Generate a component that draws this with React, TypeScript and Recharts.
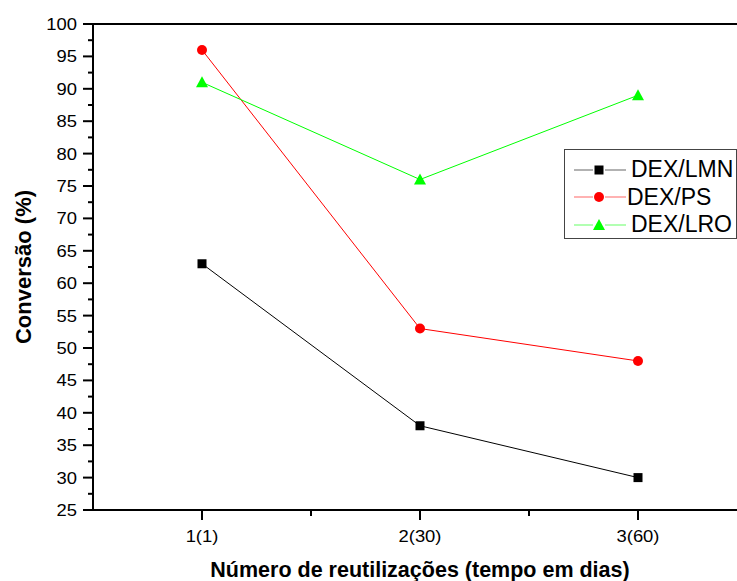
import { LineChart, Line, XAxis, YAxis, ReferenceLine } from "recharts";

const categories = ["1(1)", "2(30)", "3(60)"];
const xPositions = [1, 2, 3];
const lmn = [63, 38, 30];
const ps = [96, 53, 48];
const lro = [91, 76, 89];
const yTicks = [25, 27.5, 30, 32.5, 35, 37.5, 40, 42.5, 45, 47.5, 50, 52.5, 55, 57.5, 60, 62.5, 65, 67.5, 70, 72.5, 75, 77.5, 80, 82.5, 85, 87.5, 90, 92.5, 95, 97.5, 100];
const xTicks = [1, 1.5, 2, 2.5, 3];

const data = xPositions.map((x, i) => ({ x, lmn: lmn[i], ps: ps[i], lro: lro[i] }));

const FONT = "Liberation Sans, Arial, sans-serif";

const SERIES = [
  { key: "lmn", name: "DEX/LMN", color: "#000000", shape: "square" },
  { key: "ps", name: "DEX/PS", color: "#ff0000", shape: "circle" },
  { key: "lro", name: "DEX/LRO", color: "#00ff00", shape: "triangle" },
];

function Marker({ cx, cy, shape, color }: { cx: number; cy: number; shape: string; color: string }) {
  if (cx == null || cy == null) return null;
  if (shape === "square") return <rect x={cx - 4.5} y={cy - 4.5} width={9} height={9} fill={color} />;
  if (shape === "circle") return <circle cx={cx} cy={cy} r={5} fill={color} />;
  return <polygon points={`${cx},${cy - 6} ${cx - 6},${cy + 5} ${cx + 6},${cy + 5}`} fill={color} />;
}

// tick labels in the original look horizontally stretched
function YTick(props: any) {
  const { x, y, payload } = props;
  const major = payload.value % 5 === 0;
  return (
    <g>
      <line x1={x - (major ? 10 : 5)} x2={x} y1={y} y2={y} stroke="#000" strokeWidth={2} />
      {major && (
        <text
          transform={`translate(${x - 16},${y + 6}) scale(1.15,1)`}
          textAnchor="end"
          fontSize={16}
          fontFamily={FONT}
          fill="#000"
        >
          {payload.value}
        </text>
      )}
    </g>
  );
}

function XTick(props: any) {
  const { x, y, payload } = props;
  const major = Number.isInteger(payload.value);
  return (
    <g>
      <line x1={x} x2={x} y1={y} y2={y + (major ? 10 : 6)} stroke="#000" strokeWidth={2} />
      {major && (
        <text
          transform={`translate(${x},${y + 32}) scale(1.15,1)`}
          textAnchor="middle"
          fontSize={16}
          fontFamily={FONT}
          fill="#000"
        >
          {categories[payload.value - 1]}
        </text>
      )}
    </g>
  );
}

function LegendBox() {
  return (
    <div
      style={{
        position: "absolute",
        left: 564,
        top: 149,
        border: "1px solid #444",
        width: 173,
        height: 90,
        background: "#fff",
        boxSizing: "border-box",
        paddingTop: 6,
      }}
    >
      {SERIES.map((s) => (
        <div key={s.key} style={{ display: "flex", alignItems: "center", height: 27.5 }}>
          <svg width={60} height={20} style={{ marginLeft: 6, flex: "none" }}>
            <line x1={3} x2={55} y1={10} y2={10} stroke={s.color} strokeWidth={1} opacity={0.6} />
            <rect x={22} y={2} width={12} height={16} fill="#fff" />
            <Marker cx={28} cy={10} shape={s.shape} color={s.color} />
          </svg>
          <span
            style={{
              fontFamily: FONT,
              fontSize: 23,
              marginLeft: s.key === "ps" ? -4 : 0,
              color: "#000",
              lineHeight: 1,
              whiteSpace: "nowrap",
            }}
          >
            {s.name}
          </span>
        </div>
      ))}
    </div>
  );
}

export default function App() {
  return (
    <div style={{ position: "absolute", left: 0, top: 0, width: 737, height: 581, overflow: "hidden", background: "#fff" }}>
      <LineChart width={760} height={581} data={data} margin={{ top: 24, right: 13, bottom: 0, left: 0 }}>
        <XAxis
          dataKey="x"
          type="number"
          domain={[0.5, 3.5]}
          ticks={xTicks}
          interval={0}
          height={71}
          tickSize={0}
          tickMargin={0}
          tick={<XTick />}
          axisLine={{ stroke: "#000", strokeWidth: 2 }}
          tickLine={false}
          label={{
            value: "Número de reutilizações (tempo em dias)",
            position: "insideBottom",
            offset: 4,
            style: { fontSize: 21.5, fontWeight: "bold", fontFamily: FONT, fill: "#000" },
          }}
        />
        <YAxis
          type="number"
          domain={[25, 100]}
          ticks={yTicks}
          interval={0}
          width={93}
          tickSize={0}
          tickMargin={0}
          tick={<YTick />}
          axisLine={{ stroke: "#000", strokeWidth: 2 }}
          tickLine={false}
          label={{
            value: "Conversão (%)",
            angle: -90,
            position: "insideLeft",
            offset: 23,
            style: { fontSize: 22, fontWeight: "bold", fontFamily: FONT, fill: "#000", textAnchor: "middle" },
          }}
        />
        <ReferenceLine y={100} stroke="#000" strokeWidth={2} />
        {SERIES.map((s) => (
          <Line
            key={s.key}
            dataKey={s.key}
            name={s.name}
            stroke={s.color}
            strokeWidth={1}
            isAnimationActive={false}
            dot={(p: any) => <Marker key={`${s.key}-${p.index}`} cx={p.cx} cy={p.cy} shape={s.shape} color={s.color} />}
            activeDot={false}
          />
        ))}
      </LineChart>
      <LegendBox />
    </div>
  );
}
